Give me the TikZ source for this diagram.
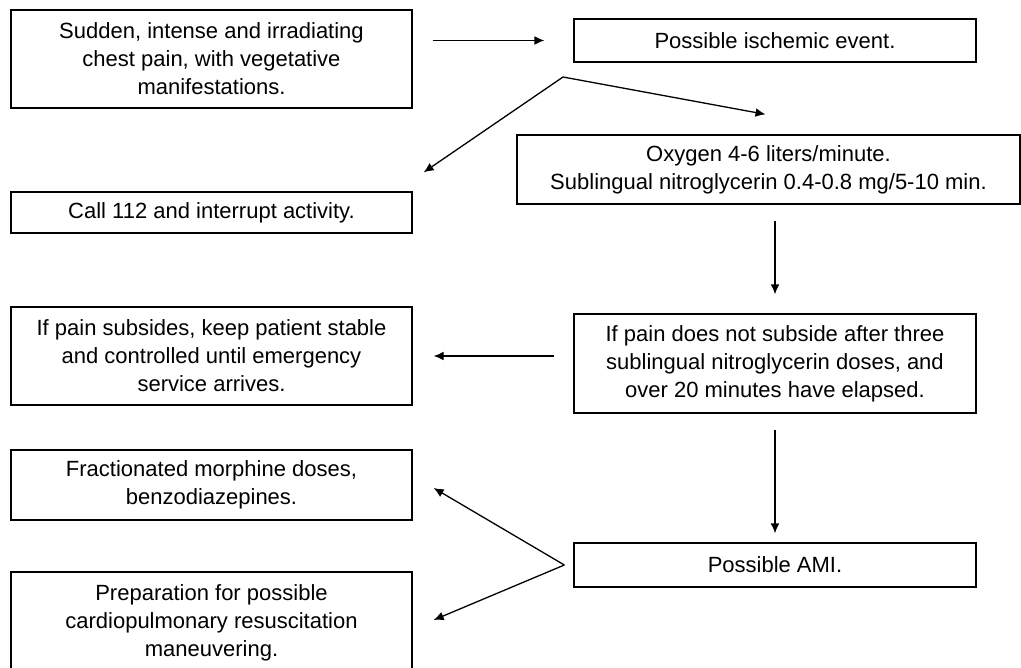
\documentclass[tikz,border=0pt]{standalone}
\usepackage{fontspec}
\setmainfont{Liberation Sans}
\usetikzlibrary{arrows.meta}

\begin{document}
\begin{tikzpicture}[x=0.5pt,y=-0.5pt,
  box/.style={draw, line width=0.65pt, align=center, inner sep=2pt,
    font=\fontsize{11pt}{14pt}\selectfont},
  arr/.style={-{Latex[length=5pt,width=4.4pt]}, line width=0.65pt}]
\useasboundingbox (0,0) rectangle (1021,668);
% left column
\node[box, minimum width=200.5pt, minimum height=49pt] (pain) at (211.5,59)
  {Sudden, intense and irradiating\\chest pain, with vegetative\\manifestations.};
\node[box, minimum width=200.5pt, minimum height=20.5pt] (call) at (211.5,212.5)
  {Call 112 and interrupt activity.};
\node[box, minimum width=200.5pt, minimum height=49pt] (stable) at (211.5,356)
  {If pain subsides, keep patient stable\\and controlled until emergency\\service arrives.};
\node[box, minimum width=200.5pt, minimum height=35pt] (morph) at (211.5,485)
  {Fractionated morphine doses,\\benzodiazepines.};
\node[box, minimum width=200.5pt, minimum height=51pt] (cpr) at (211.5,623)
  {Preparation for possible\\cardiopulmonary resuscitation\\maneuvering.};
% right column
\node[box, minimum width=201pt, minimum height=21.5pt] (isch) at (775,40.5)
  {Possible ischemic event.};
\node[box, minimum width=251.5pt, minimum height=34.5pt] (oxy) at (768.5,169.5)
  {Oxygen 4-6 liters/minute.\\Sublingual nitroglycerin 0.4-0.8 mg/5-10 min.};
\node[box, minimum width=201pt, minimum height=49.5pt] (nosub) at (775,363.5)
  {If pain does not subside after three\\sublingual nitroglycerin doses, and\\over 20 minutes have elapsed.};
\node[box, minimum width=201pt, minimum height=22pt] (ami) at (775,565)
  {Possible AMI.};
% split points
\coordinate (s1) at (563,77);
\coordinate (s2) at ([xshift=-4.5pt]ami.west);
\draw[arr, shorten <=10pt, shorten >=14.5pt] (pain.east |- isch.west) -- (isch.west);
\draw[arr] (s1) -- ([xshift=-1.5pt,yshift=10pt]oxy.north);
\draw[arr] (s1) -- ([xshift=5.5pt,yshift=9.5pt]call.north east);
\draw[arr, shorten <=8pt, shorten >=9.5pt] (oxy.south -| nosub.north) -- (nosub.north);
\draw[arr, shorten <=9.5pt, shorten >=10.5pt] (nosub.west |- stable.east) -- (stable.east);
\draw[arr, shorten <=8pt, shorten >=4.5pt] (nosub) -- (ami);
\draw[arr] (s2) -- ([xshift=10.5pt,yshift=-1.5pt]morph.east);
\draw[arr] (s2) -- ([xshift=10.5pt,yshift=1.5pt]cpr.east);
\end{tikzpicture}
\end{document}
